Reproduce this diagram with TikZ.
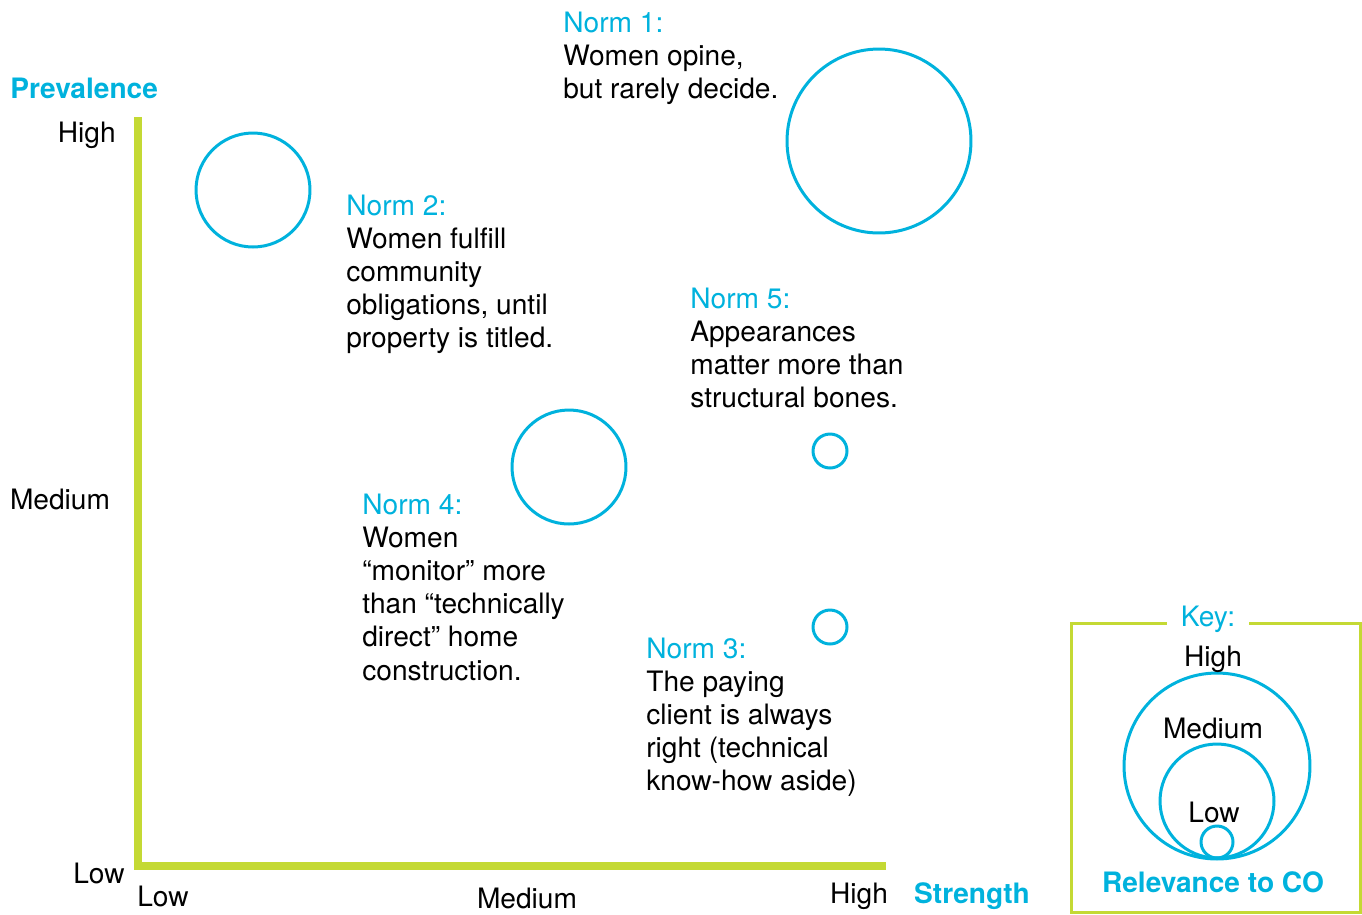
\documentclass[tikz,border=0pt]{standalone}
\usepackage{fontspec}
\setmainfont{TeX Gyre Heros}
\usepackage{tikz}
\definecolor{normblue}{HTML}{00B2DD}
\definecolor{axisgreen}{HTML}{C4D934}

\begin{document}
\begin{tikzpicture}[x=0.02cm,y=-0.02cm,
	txt/.style={font=\fontsize{16}{18.8}\selectfont,inner sep=0pt},
	normtxt/.style={txt,align=left,anchor=north west},
	headtxt/.style={font=\fontsize{16}{18.8}\selectfont\bfseries,text=normblue,inner sep=0pt},
	bubble/.style={draw=normblue,line width=0.06cm,circle,inner sep=0pt},
	axis/.style={draw=axisgreen,line width=0.16cm},
	keyline/.style={draw=axisgreen,line width=0.06cm}]
	    \useasboundingbox (0,0) rectangle (1362,914);
	    \coordinate (top) at (138,117);
	    \coordinate (origin) at (138,866);
	    \coordinate (right) at (886,866);
	    \draw[axis] (top) -- (origin) -- (right);
	    \node[headtxt,anchor=west] (prev) at (10,88) {Prevalence};
	    \node[txt,anchor=east] (yhigh) at (116,135) {High};
	    \node[txt] (ymed) at (60,499) {Medium};
	    \node[txt] (ylow) at (99,873) {Low};
	    \node[txt] (xlow) at (163,896) {Low};
	    \node[txt] (xmed) at (527,898) {Medium};
	    \node[txt] (xhigh) at (859,896) {High};
	    \node[headtxt] (strength) at (972,896) {Strength};
	    \node[bubble,minimum size=3.68cm] (c1) at (879,141) {};
	    \node[bubble,minimum size=2.28cm] (c2) at (253,190) {};
	    \node[bubble,minimum size=2.28cm] (c4) at (569,467) {};
	    \node[bubble,minimum size=0.68cm] (c5) at (830,451) {};
	    \node[bubble,minimum size=0.68cm] (c3) at (830,627) {};
	    \node[normtxt] (n1) at (563,12) {\textcolor{normblue}{Norm 1:}\\Women opine,\\but rarely decide.};
	    \node[normtxt] (n2) at (346,195) {\textcolor{normblue}{Norm 2:}\\Women fulfill\\community\\obligations, until\\property is titled.};
	    \node[normtxt] (n5) at (690,288) {\textcolor{normblue}{Norm 5:}\\Appearances\\matter more than\\structural bones.};
	    \node[normtxt] (n4) at (362,494) {\textcolor{normblue}{Norm 4:}\\Women\\``monitor'' more\\than ``technically\\direct'' home\\construction.};
	    \node[normtxt] (n3) at (646,638) {\textcolor{normblue}{Norm 3:}\\The paying\\client is always\\right (technical\\know-how aside)};
	    \draw[keyline] (1071,623) rectangle (1360,912);
	    \node[txt,text=normblue,fill=white,inner xsep=8pt] (key) at (1208,619) {Key:};
	    \node[bubble,minimum size=3.72cm] (khigh) at (1217,766) {};
	    \node[bubble,minimum size=2.28cm] (kmed) at (1217,801) {};
	    \node[bubble,minimum size=0.64cm] (klow) at (1217,842) {};
	    \node[txt] (lhigh) at (1213,659) {High};
	    \node[txt] (lmed) at (1213,728) {Medium};
	    \node[txt] (llow) at (1214,812) {Low};
	    \node[headtxt] (rel) at (1213,882) {Relevance to CO};
	\end{tikzpicture}
\end{document}
